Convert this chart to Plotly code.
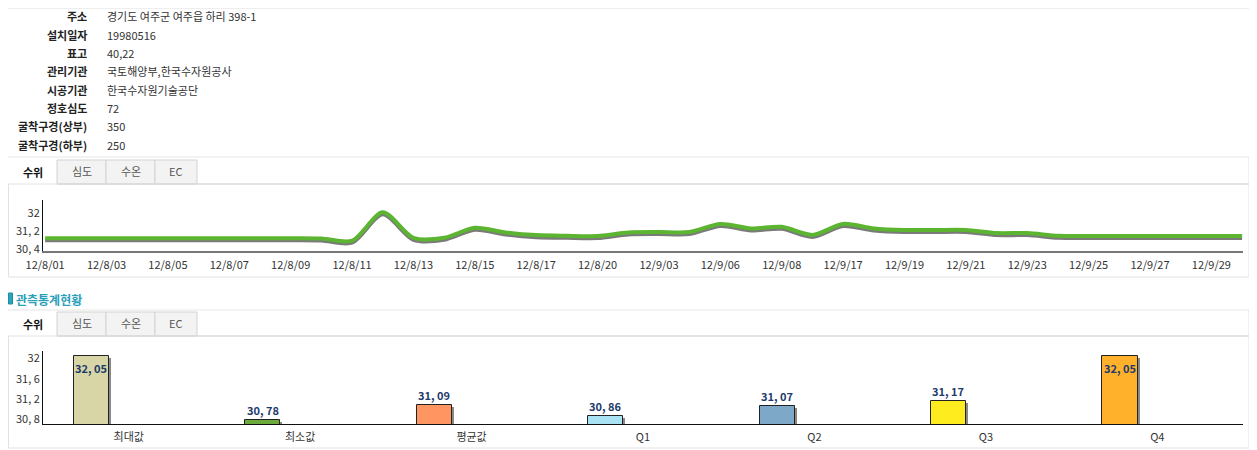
import plotly.graph_objects as go

W, H = 1257, 450
OFF = 8  # page body margin in the browser
FONT = "Noto Sans CJK KR"

# ---------------- data ----------------
info_labels = ['주소', '설치일자', '표고', '관리기관', '시공기관', '정호심도', '굴착구경(상부)', '굴착구경(하부)']
info_values = ['경기도 여주군 여주읍 하리 398-1', '19980516', '40,22', '국토해양부,한국수자원공사',
               '한국수자원기술공단', '72', '350', '250']

tab_labels = ['수위', '심도', '수온', 'EC']

line_dates = ['12/8/01', '12/8/02', '12/8/03', '12/8/04', '12/8/05', '12/8/06', '12/8/07', '12/8/08',
              '12/8/09', '12/8/10', '12/8/11', '12/8/12', '12/8/13', '12/8/14', '12/8/15', '12/8/16',
              '12/8/17', '12/8/18', '12/8/20', '12/8/21', '12/9/03', '12/9/04', '12/9/06', '12/9/07',
              '12/9/08', '12/9/09', '12/9/17', '12/9/18', '12/9/19', '12/9/20', '12/9/21', '12/9/22',
              '12/9/23', '12/9/24', '12/9/25', '12/9/26', '12/9/27', '12/9/28', '12/9/29', '12/9/30']
line_values = [30.89, 30.89, 30.89, 30.89, 30.89, 30.89, 30.89, 30.89,
               30.89, 30.88, 30.78, 32.05, 30.91, 30.91, 31.36, 31.15,
               31.03, 31.00, 30.99, 31.15, 31.17, 31.17, 31.53, 31.33,
               31.40, 31.04, 31.53, 31.33, 31.26, 31.26, 31.26, 31.12,
               31.12, 31.00, 30.99, 30.99, 30.99, 30.99, 30.99, 30.99]
line_tickvals = [30.4, 31.2, 32.0]

bar_categories = ['최대값', '최소값', '평균값', 'Q1', 'Q2', 'Q3', 'Q4']
bar_values = [32.05, 30.78, 31.09, 30.86, 31.07, 31.17, 32.05]
bar_colors = ['#d8d6a6', '#6caa3c', '#ff9560', '#a9e3f3', '#7ea8c8', '#ffec1f', '#ffb12c']
bar_tickvals = [30.8, 31.2, 31.6, 32.0]


def kr_num(v, fmt):
    return format(v, fmt).replace('.', ', ')


# ---------------- helpers (page pixels -> paper) ----------------
def fx(x):
    return (x - OFF) / W


def fy(y):
    return 1 - (y - OFF) / H


shapes = []
annotations = []


def rect(x0, y0, x1, y1, fill='rgba(0,0,0,0)', line='rgba(0,0,0,0)', lw=1):
    shapes.append(dict(type='rect', xref='paper', yref='paper', x0=fx(x0), x1=fx(x1),
                       y0=fy(y1), y1=fy(y0), fillcolor=fill, line=dict(color=line, width=lw),
                       layer='below'))


def seg(x0, y0, x1, y1, color, lw=1):
    shapes.append(dict(type='line', xref='paper', yref='paper', x0=fx(x0), x1=fx(x1),
                       y0=fy(y0), y1=fy(y1), line=dict(color=color, width=lw), layer='below'))


def text(x, y, s, anchor='left', size=11, color='#333', bold=False):
    annotations.append(dict(xref='paper', yref='paper', x=fx(x), y=fy(y), text=('<b>%s</b>' % s) if bold else s,
                            showarrow=False, xanchor=anchor, yanchor='middle', borderpad=0,
                            font=dict(family=FONT, size=size, color=color)))


# ---------------- info box ----------------
seg(8, 8.5, 1250, 8.5, '#eeeeee')
seg(8, 157, 1250, 157, '#e6e6e6')
for i, (lab, val) in enumerate(zip(info_labels, info_values)):
    y = 16.5 + 18.3 * i
    text(88, y, lab, anchor='right', size=11, color='#222', bold=True)
    text(106, y, val, anchor='left', size=11, color='#333')


# ---------------- tabs ----------------
def tabs(top, bottom):
    edges = [(8, 57), (57, 106), (106, 155), (155, 197)]
    for k, ((a, b), lab) in enumerate(zip(edges, tab_labels)):
        if k > 0:
            rect(a, top, b, bottom, fill='#f3f3f3', line='#d3d3d3')
            text((a + b) / 2, (top + bottom) / 2 - 1, lab, anchor='center', size=11, color='#555')
        else:
            text(33, (top + bottom) / 2, lab, anchor='center', size=11, color='#111', bold=True)
    seg(57, bottom, 1249, bottom, '#c9c9c9')


tabs(160, 184)
rect(8.5, 184, 1249, 277, line='#e2e2e2')
seg(1249, 157, 1249, 184, '#e2e2e2')

# section title
rect(8.5, 293, 12.5, 304, fill='#2aa5bd', line='#1b8ea6')
text(15, 299, '관측통계현황', anchor='left', size=12, color='#2a9fb8', bold=True)

seg(8, 310, 1249, 310, '#e6e6e6')
tabs(312, 336)
rect(8.5, 336, 1249, 448, line='#e2e2e2')
seg(1249, 310, 1249, 336, '#e2e2e2')

# ---------------- traces ----------------
fig = go.Figure()

# shadow (base axis, drawn first) and line (overlay axis, drawn on top)
fig.add_trace(go.Scatter(x=line_dates, y=line_values, mode='lines', xaxis='x', yaxis='y',
                         line=dict(color='rgba(50,50,50,0.65)', width=4, shape='spline', smoothing=0.8),
                         hoverinfo='skip', showlegend=False))
fig.add_trace(go.Scatter(x=line_dates, y=line_values, mode='lines', xaxis='x', yaxis='y3',
                         line=dict(color='#5cb531', width=4, shape='spline', smoothing=0.8),
                         showlegend=False))

bar_w = 0.205
bar_off = -0.32
fig.add_trace(go.Bar(x=bar_categories, y=bar_values, xaxis='x2', yaxis='y2', width=bar_w,
                     offset=bar_off + 0.012,
                     marker=dict(color='rgba(40,40,40,0.55)', line=dict(width=0)),
                     hoverinfo='skip', showlegend=False))
fig.add_trace(go.Bar(x=bar_categories, y=bar_values, xaxis='x2', yaxis='y4', width=bar_w,
                     offset=bar_off, opacity=1,
                     marker=dict(color=bar_colors, opacity=1, line=dict(color='#222', width=1)),
                     showlegend=False))

y2_range = [30.71, 32.15]
for cat, v in zip(bar_categories, bar_values):
    inside = v > y2_range[1] - 0.3
    annotations.append(dict(xref='x2', yref='y4', x=cat, y=v, xshift=-37.5,
                            yshift=-2 if inside else 0, yanchor='top' if inside else 'bottom',
                            xanchor='center', showarrow=False, text='<b>%s</b>' % kr_num(v, '.2f'),
                            font=dict(family=FONT, size=11, color='#1d3a6c')))

xdom = [fx(43), fx(1243)]
axis_font = dict(family=FONT, size=11, color='#333')
y1_range = [30.32, 32.6]
fig.update_layout(
    width=W, height=H, autosize=False,
    margin=dict(l=0, r=0, t=0, b=0, pad=0, autoexpand=False),
    paper_bgcolor='white', plot_bgcolor='rgba(0,0,0,0)',
    bargap=0, barmode='overlay',
    shapes=shapes, annotations=annotations,
    xaxis=dict(domain=xdom, anchor='y', type='category', categoryorder='array', categoryarray=line_dates,
               range=[-0.07, 39.03], showline=True, linecolor='#777', linewidth=2, showgrid=False,
               zeroline=False, ticks='', tickvals=line_dates[::2], ticktext=line_dates[::2],
               tickfont=axis_font, tickangle=0, fixedrange=True, automargin=False, ticklabelstandoff=3),
    yaxis=dict(domain=[fy(251), fy(200)], anchor='x', range=[y1_range[0] + 0.09, y1_range[1] + 0.09],
               visible=False, automargin=False),
    yaxis3=dict(overlaying='y', anchor='x', side='left', range=y1_range, showline=True, linecolor='#111',
                linewidth=1, showgrid=False, zeroline=False, ticks='', tickvals=line_tickvals,
                ticktext=[kr_num(v, 'g') for v in line_tickvals], tickfont=axis_font, automargin=False),
    xaxis2=dict(domain=xdom, anchor='y2', type='category', categoryorder='array',
                categoryarray=bar_categories, range=[-0.5, 6.5], showline=True, linecolor='#111',
                linewidth=1, showgrid=False, zeroline=False, ticks='', tickfont=axis_font,
                automargin=False, ticklabelstandoff=3),
    yaxis2=dict(domain=[fy(424), fy(351)], anchor='x2', range=[y2_range[0] + 0.04, y2_range[1] + 0.04],
                visible=False, automargin=False),
    yaxis4=dict(overlaying='y2', anchor='x2', side='left', range=y2_range, showline=True, linecolor='#111',
                linewidth=1, showgrid=False, zeroline=False, ticks='', tickvals=bar_tickvals,
                ticktext=[kr_num(v, 'g') for v in bar_tickvals], tickfont=axis_font, automargin=False),
)

fig.write_html("out.html")
